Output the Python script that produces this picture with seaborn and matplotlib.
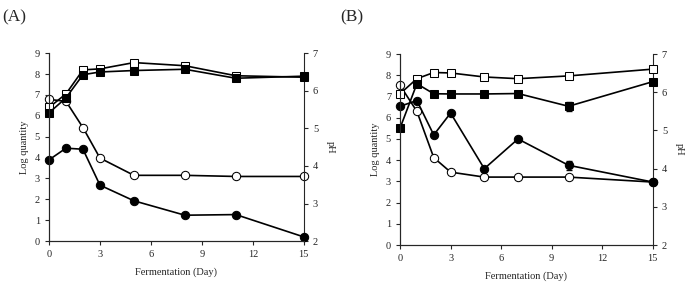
import matplotlib
matplotlib.use("Agg")
import matplotlib.pyplot as plt
import seaborn as sns
import pandas as pd

# Panel A
days_a = [0, 1, 2, 3, 5, 8, 11, 15]
a_open_sq = [6.4, 7.05, 8.2, 8.25, 8.55, 8.4, 7.92, 7.85]
a_fill_sq = [6.14, 6.86, 7.97, 8.1, 8.17, 8.23, 7.8, 7.9]
a_fill_ci = [3.89, 4.45, 4.4, 2.68, 1.93, 1.24, 1.27, 0.2]
a_ph = [5.77, 5.72, 5.02, 4.21, 3.75, 3.75, 3.72, 3.72]

# Panel B
days_b = [0, 1, 2, 3, 5, 7, 10, 15]
b_open_sq = [7.13, 7.84, 8.13, 8.11, 7.92, 7.84, 7.97, 8.29]
b_fill_sq = [5.51, 7.6, 7.13, 7.12, 7.12, 7.14, 6.54, 7.7]
b_fill_sq_err = [0, 0, 0, 0, 0, 0, 0.2, 0]
b_fill_ci = [6.54, 6.81, 5.19, 6.22, 3.6, 5.0, 3.76, 2.97]
b_fill_ci_err = [0, 0, 0, 0, 0, 0, 0.2, 0]
b_ph = [6.18, 5.5, 4.29, 3.91, 3.78, 3.78, 3.78, 3.65]

sns.set_style("ticks")
plt.rcParams["font.family"] = ["Liberation Serif", "DejaVu Serif"]
plt.rcParams["font.size"] = 7.5

fig = plt.figure(figsize=(6.85, 2.86), dpi=100)
ax_a = fig.add_axes([0.0715, 0.157, 0.372, 0.657])
ax_b = fig.add_axes([0.584, 0.143, 0.369, 0.668])

ms = 6


def draw_panel(ax, days, open_sq, fill_sq, fill_ci, ph,
               sq_err=None, ci_err=None):
    df = pd.DataFrame({"day": days, "open_sq": open_sq, "fill_sq": fill_sq,
                       "fill_ci": fill_ci, "ph": ph})
    if sq_err is not None:
        ax.errorbar(days, fill_sq, yerr=sq_err, fmt="none",
                    ecolor="black", elinewidth=0.8, capsize=2)
        ax.errorbar(days, fill_ci, yerr=ci_err, fmt="none",
                    ecolor="black", elinewidth=0.8, capsize=2)
    sns.lineplot(data=df, x="day", y="fill_ci", ax=ax, color="black",
                 marker="o", markersize=ms, markerfacecolor="black",
                 markeredgecolor="black", linewidth=1.2, clip_on=False)
    sns.lineplot(data=df, x="day", y="fill_sq", ax=ax, color="black",
                 marker="s", markersize=ms - 0.5, markerfacecolor="black",
                 markeredgecolor="black", linewidth=1.2, clip_on=False)
    sns.lineplot(data=df, x="day", y="open_sq", ax=ax, color="black",
                 marker="s", markersize=ms - 0.5, markerfacecolor="white",
                 markeredgecolor="black", linewidth=1.2, clip_on=False,
                 zorder=1.5)
    ax.set_xlim(0, 15)
    ax.set_ylim(0, 9)
    ax.set_xticks([0, 3, 6, 9, 12, 15])
    ax.set_yticks(range(0, 10))
    ax.set_xlabel("Fermentation (Day)", labelpad=6)
    ax.set_ylabel("Log quantity")
    ax.spines["top"].set_visible(False)
    ax.spines["right"].set_visible(False)
    ax.tick_params(length=3, width=0.8)

    ax2 = ax.twinx()
    sns.lineplot(data=df, x="day", y="ph", ax=ax2, color="black",
                 marker="o", markersize=ms, markerfacecolor="white",
                 markeredgecolor="black", linewidth=1.2, clip_on=False)
    ax2.set_ylim(2, 7)
    ax2.set_yticks(range(2, 8))
    ax2.set_ylabel("pH", rotation=270, labelpad=12)
    ax2.spines["top"].set_visible(False)
    ax2.tick_params(length=3, width=0.8)
    ax.set_zorder(ax2.get_zorder() + 1)
    ax.patch.set_visible(False)

    for a in (ax, ax2):
        for s in a.spines.values():
            s.set_linewidth(0.8)
    return ax2


draw_panel(ax_a, days_a, a_open_sq, a_fill_sq, a_fill_ci, a_ph)
draw_panel(ax_b, days_b, b_open_sq, b_fill_sq, b_fill_ci, b_ph,
           sq_err=b_fill_sq_err, ci_err=b_fill_ci_err)

fig.text(0.003, 0.925, "(A)", fontsize=12.5)
fig.text(0.497, 0.925, "(B)", fontsize=12.5)

fig.savefig("out.png", dpi=100)
